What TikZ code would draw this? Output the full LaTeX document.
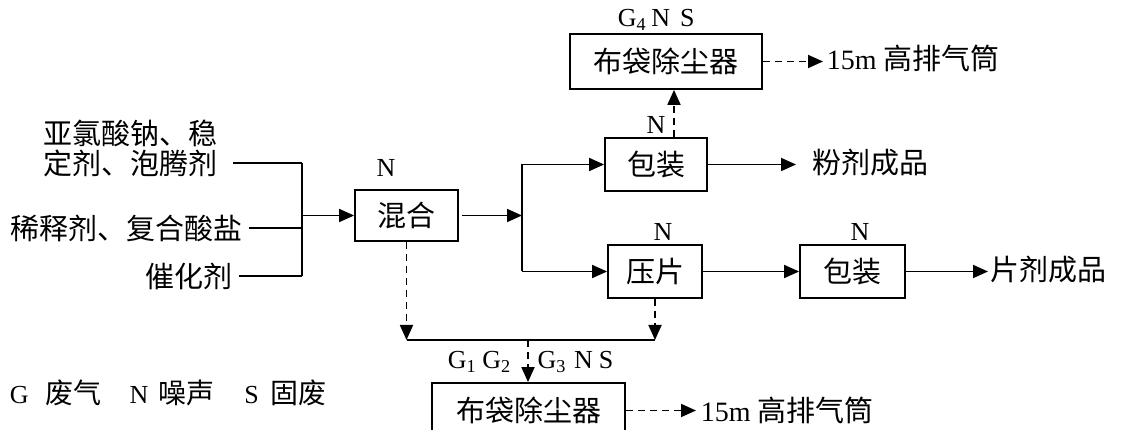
\documentclass[tikz,border=0pt]{standalone}
\usepackage{fontspec}
\setmainfont{Liberation Serif}
\newfontfamily\cjk{Noto Sans CJK SC}
\usetikzlibrary{arrows.meta}
\begin{document}
\begin{tikzpicture}[x=1pt,y=-1pt,line width=1.8pt,
  zh/.style={font=\cjk\fontsize{29}{30}\selectfont,inner sep=0pt},
  lat/.style={font=\fontsize{26}{28}\selectfont,inner sep=0pt},
  mixed/.style={font=\fontsize{28}{30}\selectfont,inner sep=0pt},
  pbox/.style={draw,line width=1.8pt,font=\cjk\fontsize{29}{30}\selectfont,inner sep=0pt},
  arr/.style={-{Triangle[length=15pt,width=13pt]}},
  dsh/.style={dash pattern=on 7pt off 5pt}]
\useasboundingbox (0,0) rectangle (1125,430);
\clip (0,0) rectangle (1125,430);

% input texts
\node[zh,anchor=west] (in1a) at (43,133) {亚氯酸钠、稳};
\node[zh,anchor=west] (in1b) at (43,163) {定剂、泡腾剂};
\node[zh,anchor=west] (in2) at (10,228) {稀释剂、复合酸盐};
\node[zh,anchor=west] (in3) at (145,276) {催化剂};

% boxes
\node[pbox,minimum width=103pt,minimum height=51pt] (mix) at (406.5,215.5) {混合};
\node[pbox,minimum width=102pt,minimum height=53pt] (pack1) at (656,164.5) {包装};
\node[pbox,minimum width=192pt,minimum height=55pt] (dust1) at (666,61.5) {布袋除尘器};
\node[pbox,minimum width=94pt,minimum height=53pt] (press) at (655,271.5) {压片};
\node[pbox,minimum width=105pt,minimum height=53pt] (pack2) at (852.5,271.5) {包装};
\node[pbox,minimum width=193pt,minimum height=55pt] (dust2) at (528.5,410.5) {布袋除尘器};

% output texts
\node[zh,anchor=west] (prod1) at (812,163) {粉剂成品};
\node[zh,anchor=west] (prod2) at (990,270) {片剂成品};
\node[mixed,anchor=west] (stk1) at (826,58) {15m {\cjk\fontsize{29}{30}\selectfont 高排气筒}};
\node[mixed,anchor=west] (stk2) at (700,410) {15m {\cjk\fontsize{29}{30}\selectfont 高排气筒}};

% labels
\node[lat] (nmix) at (386,168) {N};
\node[lat] (npack1) at (656,125) {N};
\node[lat] (npress) at (663,232) {N};
\node[lat] (npack2) at (860,232) {N};
\node[lat,anchor=west] (g4) at (617,20) {G\textsubscript{4}\hspace{5pt}N\hspace{10pt}S};
\node[lat,anchor=west] (g123) at (447,362) {G\textsubscript{1}\hspace{6pt}G\textsubscript{2}\hspace{27pt}G\textsubscript{3}\hspace{8pt}N\hspace{6pt}S};
\node[anchor=west,inner sep=0pt,font=\fontsize{26}{28}\selectfont] (legend) at (9,393) {G\hspace{17pt}{\cjk\fontsize{28}{30}\selectfont 废气}\hspace{28pt}N\hspace{10pt}{\cjk\fontsize{28}{30}\selectfont 噪声}\hspace{30pt}S\hspace{12pt}{\cjk\fontsize{28}{30}\selectfont 固废}};

% junction coordinates
\coordinate (jt) at (302,163);
\coordinate (jm) at (302,215.5);
\coordinate (jb) at (302,276);
\coordinate (jr) at (522,215.5);
\coordinate (hl) at (528,340);

% inputs
\draw ([xshift=14pt]in1b.east) -- (jt);
\draw ([xshift=5pt]in2.east) -- (in2.east -| jt);
\draw ([xshift=5pt]in3.east) -- (jb);
\draw (jt) -- (jb);
\draw[arr] (jm) -- (mix.west);

% split
\draw[arr] ([xshift=3pt]mix.east) -- (jr);
\draw (jr |- pack1.west) -- (jr |- press.west);
\draw[arr] (jr |- pack1.west) -- (pack1.west);
\draw[arr] (jr |- press.west) -- (press.west);

% products
\draw[arr] (pack1.east) -- ([xshift=-16pt]pack1.east -| prod1.west);
\draw[arr] (press.east) -- (pack2.west);
\draw[arr] (pack2.east) -- ([xshift=-2pt]pack2.east -| prod2.west);

% dust collection top
\draw[dsh,arr] ([xshift=18pt]pack1.north) -- ([xshift=18pt]pack1.north |- dust1.south);
\draw[dsh,arr] (dust1.east) -- ([xshift=-3pt]dust1.east -| stk1.west);

% dust collection bottom
\draw[dsh,arr] (mix.south) -- (mix.south |- hl);
\draw[dsh,arr] (press.south) -- (press.south |- hl);
\draw (mix.south |- hl) -- (press.south |- hl);
\draw[dsh,arr] (hl) -- (hl |- dust2.north);
\draw[dsh,arr] (dust2.east) -- ([xshift=-4pt]dust2.east -| stk2.west);
\end{tikzpicture}
\end{document}
